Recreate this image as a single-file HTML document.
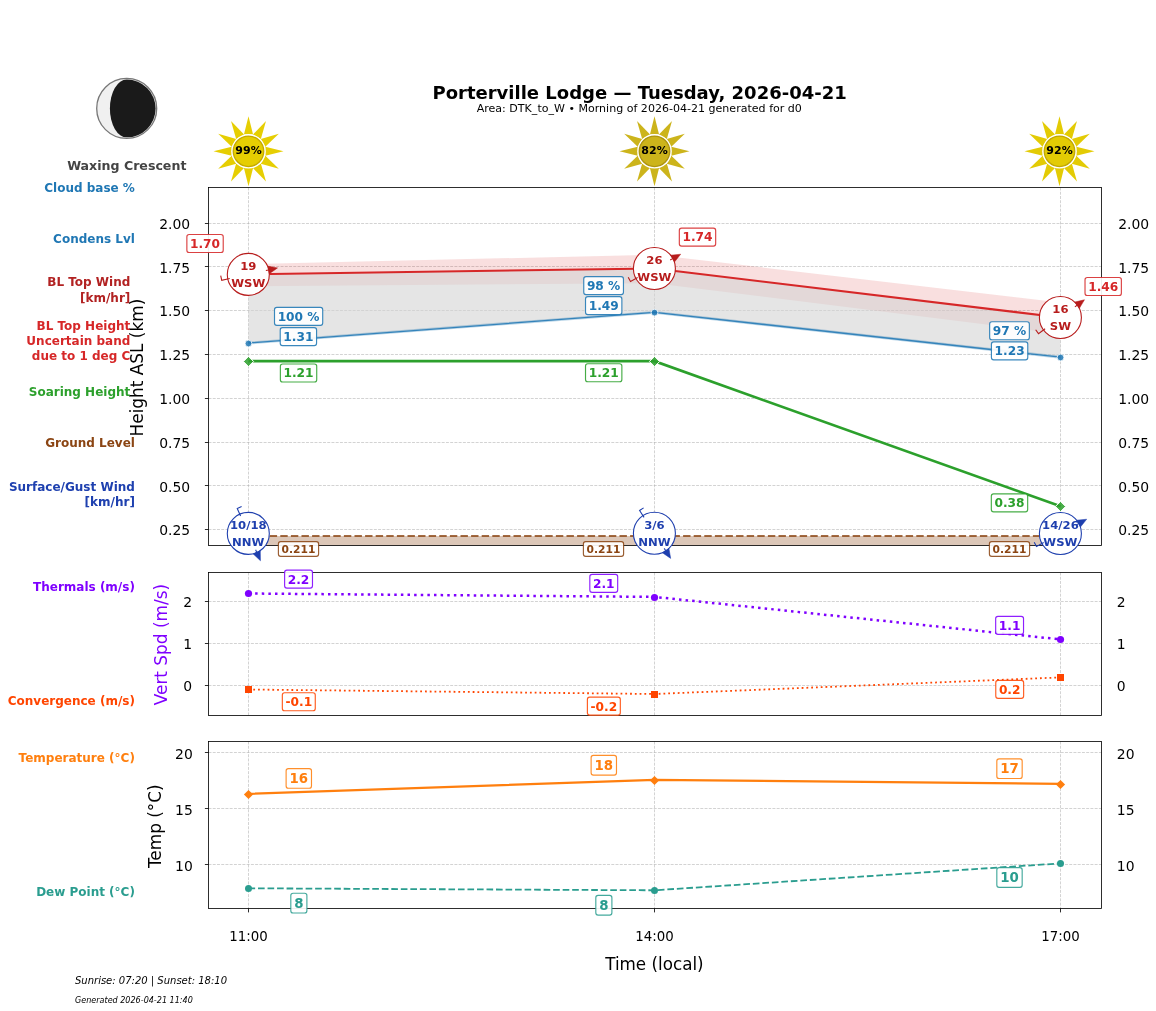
<!DOCTYPE html>
<html><head><meta charset="utf-8"><title>Porterville Lodge</title>
<style>html,body{margin:0;padding:0;background:#fff}svg{display:block}</style></head>
<body>
<svg width="1156" height="1011" viewBox="0 0 1156 1011" font-family='"DejaVu Sans","Liberation Sans",sans-serif'>
<style>.g{stroke:#b0b0b0;stroke-opacity:.7;stroke-width:.8;stroke-dasharray:2.96 1.28;fill:none}.tk{font-size:13.9px;fill:#000}.ll{font-size:12px;font-weight:bold}</style>
<rect width="1156" height="1011" fill="#fff"/>
<text x="639.6" y="98.6" text-anchor="middle" font-weight="bold" font-size="18.0" fill="#000">Porterville Lodge — Tuesday, 2026-04-21</text>
<text x="639.3" y="111.6" text-anchor="middle" font-size="11.05" fill="#000">Area: DTK_to_W • Morning of 2026-04-21 generated for d0</text>
<circle cx="126.7" cy="108.45" r="30.0" fill="#f0f0f0" stroke="#777" stroke-width="1.3"/>
<path d="M126.7,79.55000000000001A28.9,28.9 0 0 1 126.7,137.35A16.8,28.9 0 0 1 126.7,79.55000000000001Z" fill="#1a1a1a"/>
<text x="126.8" y="169.9" text-anchor="middle" font-weight="bold" font-size="12.6" fill="#444">Waxing Crescent</text>
<line x1="248.5" y1="187.5" x2="248.5" y2="545.5" class="g"/>
<line x1="654.5" y1="187.5" x2="654.5" y2="545.5" class="g"/>
<line x1="1060.5" y1="187.5" x2="1060.5" y2="545.5" class="g"/>
<line x1="208.5" y1="223.5" x2="1101.5" y2="223.5" class="g"/>
<line x1="208.5" y1="266.5" x2="1101.5" y2="266.5" class="g"/>
<line x1="208.5" y1="310.5" x2="1101.5" y2="310.5" class="g"/>
<line x1="208.5" y1="354.5" x2="1101.5" y2="354.5" class="g"/>
<line x1="208.5" y1="398.5" x2="1101.5" y2="398.5" class="g"/>
<line x1="208.5" y1="442.5" x2="1101.5" y2="442.5" class="g"/>
<line x1="208.5" y1="485.5" x2="1101.5" y2="485.5" class="g"/>
<line x1="208.5" y1="529.5" x2="1101.5" y2="529.5" class="g"/>
<polygon points="248.50,264.20 654.50,254.70 1060.50,302.60 1060.50,333.90 654.50,283.20 248.50,286.40" fill="#d62728" fill-opacity="0.15"/>
<polygon points="248.50,274.30 654.50,268.50 1060.50,317.50 1060.50,357.20 654.50,312.40 248.50,343.00" fill="#d3d3d3" fill-opacity="0.6"/>
<rect x="248.5" y="536.0" width="812.0" height="9.5" fill="#8b4513" fill-opacity="0.3"/>
<line x1="248.5" y1="536.0" x2="1060.5" y2="536.0" stroke="#8b4513" stroke-opacity="0.8" stroke-width="2.0" stroke-dasharray="7.4 3.2"/>
<polyline points="248.50,343.00 654.50,312.40 1060.50,357.20" fill="none" stroke="#1f77b4" stroke-opacity="0.3" stroke-width="2.9"/>
<polyline points="248.50,343.00 654.50,312.40 1060.50,357.20" fill="none" stroke="#1f77b4" stroke-opacity="0.85" stroke-width="1.3"/>
<circle cx="248.5" cy="343.5" r="3.4" fill="#1f77b4" fill-opacity="0.85" stroke="#fff" stroke-opacity="0.9" stroke-width="0.9"/>
<circle cx="654.5" cy="312.6" r="3.4" fill="#1f77b4" fill-opacity="0.85" stroke="#fff" stroke-opacity="0.9" stroke-width="0.9"/>
<circle cx="1060.5" cy="357.5" r="3.4" fill="#1f77b4" fill-opacity="0.85" stroke="#fff" stroke-opacity="0.9" stroke-width="0.9"/>
<polyline points="248.50,361.15 654.50,361.15 1060.50,506.30" fill="none" stroke="#2ca02c" stroke-width="2.67"/>
<path d="M248.5,356.4L253.6,361.5L248.5,366.6L243.4,361.5Z" fill="#2ca02c" fill-opacity="0.85" stroke="#fff" stroke-width="1.0"/>
<path d="M654.5,356.4L659.6,361.5L654.5,366.6L649.4,361.5Z" fill="#2ca02c" fill-opacity="0.85" stroke="#fff" stroke-width="1.0"/>
<path d="M1060.5,501.4L1065.6,506.5L1060.5,511.6L1055.4,506.5Z" fill="#2ca02c" fill-opacity="0.85" stroke="#fff" stroke-width="1.0"/>
<polyline points="248.50,274.30 654.50,268.50 1060.50,317.50" fill="none" stroke="#d62728" stroke-width="2.05"/>
<rect x="208.5" y="187.5" width="893.0" height="358.0" fill="none" stroke="#000" stroke-width="0.82"/>
<line x1="204.9" y1="223.5" x2="208.5" y2="223.5" stroke="#000" stroke-width="0.82"/>
<text x="190.2" y="228.80" text-anchor="end" class="tk">2.00</text>
<text x="1118.2" y="228.80" text-anchor="start" class="tk">2.00</text>
<line x1="204.9" y1="266.5" x2="208.5" y2="266.5" stroke="#000" stroke-width="0.82"/>
<text x="190.2" y="272.60" text-anchor="end" class="tk">1.75</text>
<text x="1118.2" y="272.60" text-anchor="start" class="tk">1.75</text>
<line x1="204.9" y1="310.5" x2="208.5" y2="310.5" stroke="#000" stroke-width="0.82"/>
<text x="190.2" y="316.40" text-anchor="end" class="tk">1.50</text>
<text x="1118.2" y="316.40" text-anchor="start" class="tk">1.50</text>
<line x1="204.9" y1="354.5" x2="208.5" y2="354.5" stroke="#000" stroke-width="0.82"/>
<text x="190.2" y="360.20" text-anchor="end" class="tk">1.25</text>
<text x="1118.2" y="360.20" text-anchor="start" class="tk">1.25</text>
<line x1="204.9" y1="398.5" x2="208.5" y2="398.5" stroke="#000" stroke-width="0.82"/>
<text x="190.2" y="404.00" text-anchor="end" class="tk">1.00</text>
<text x="1118.2" y="404.00" text-anchor="start" class="tk">1.00</text>
<line x1="204.9" y1="442.5" x2="208.5" y2="442.5" stroke="#000" stroke-width="0.82"/>
<text x="190.2" y="447.80" text-anchor="end" class="tk">0.75</text>
<text x="1118.2" y="447.80" text-anchor="start" class="tk">0.75</text>
<line x1="204.9" y1="485.5" x2="208.5" y2="485.5" stroke="#000" stroke-width="0.82"/>
<text x="190.2" y="491.60" text-anchor="end" class="tk">0.50</text>
<text x="1118.2" y="491.60" text-anchor="start" class="tk">0.50</text>
<line x1="204.9" y1="529.5" x2="208.5" y2="529.5" stroke="#000" stroke-width="0.82"/>
<text x="190.2" y="535.40" text-anchor="end" class="tk">0.25</text>
<text x="1118.2" y="535.40" text-anchor="start" class="tk">0.25</text>
<rect x="186.87" y="234.50" width="36.35" height="18.00" rx="2.3" fill="#fff" fill-opacity="0.92" stroke="#d62728" stroke-opacity="0.88" stroke-width="1.15"/>
<text x="205.05" y="247.85" text-anchor="middle" font-weight="bold" font-size="12.2" fill="#d62728">1.70</text>
<rect x="679.32" y="228.10" width="36.35" height="18.00" rx="2.3" fill="#fff" fill-opacity="0.92" stroke="#d62728" stroke-opacity="0.88" stroke-width="1.15"/>
<text x="697.50" y="241.45" text-anchor="middle" font-weight="bold" font-size="12.2" fill="#d62728">1.74</text>
<rect x="1085.02" y="277.50" width="36.35" height="18.00" rx="2.3" fill="#fff" fill-opacity="0.92" stroke="#d62728" stroke-opacity="0.88" stroke-width="1.15"/>
<text x="1103.20" y="290.85" text-anchor="middle" font-weight="bold" font-size="12.2" fill="#d62728">1.46</text>
<rect x="274.51" y="307.40" width="48.19" height="18.00" rx="2.3" fill="#fff" fill-opacity="0.92" stroke="#1f77b4" stroke-opacity="0.88" stroke-width="1.15"/>
<text x="298.60" y="320.75" text-anchor="middle" font-weight="bold" font-size="12.2" fill="#1f77b4">100 %</text>
<rect x="280.22" y="327.60" width="36.35" height="18.00" rx="2.3" fill="#fff" fill-opacity="0.92" stroke="#1f77b4" stroke-opacity="0.88" stroke-width="1.15"/>
<text x="298.40" y="340.95" text-anchor="middle" font-weight="bold" font-size="12.2" fill="#1f77b4">1.31</text>
<rect x="583.75" y="276.60" width="39.70" height="18.00" rx="2.3" fill="#fff" fill-opacity="0.92" stroke="#1f77b4" stroke-opacity="0.88" stroke-width="1.15"/>
<text x="603.60" y="289.95" text-anchor="middle" font-weight="bold" font-size="12.2" fill="#1f77b4">98 %</text>
<rect x="585.52" y="296.60" width="36.35" height="18.00" rx="2.3" fill="#fff" fill-opacity="0.92" stroke="#1f77b4" stroke-opacity="0.88" stroke-width="1.15"/>
<text x="603.70" y="309.95" text-anchor="middle" font-weight="bold" font-size="12.2" fill="#1f77b4">1.49</text>
<rect x="989.65" y="321.70" width="39.70" height="18.00" rx="2.3" fill="#fff" fill-opacity="0.92" stroke="#1f77b4" stroke-opacity="0.88" stroke-width="1.15"/>
<text x="1009.50" y="335.05" text-anchor="middle" font-weight="bold" font-size="12.2" fill="#1f77b4">97 %</text>
<rect x="991.42" y="341.90" width="36.35" height="18.00" rx="2.3" fill="#fff" fill-opacity="0.92" stroke="#1f77b4" stroke-opacity="0.88" stroke-width="1.15"/>
<text x="1009.60" y="355.25" text-anchor="middle" font-weight="bold" font-size="12.2" fill="#1f77b4">1.23</text>
<rect x="280.37" y="363.95" width="36.35" height="18.00" rx="2.3" fill="#fff" fill-opacity="0.92" stroke="#2ca02c" stroke-opacity="0.88" stroke-width="1.15"/>
<text x="298.55" y="377.30" text-anchor="middle" font-weight="bold" font-size="12.2" fill="#2ca02c">1.21</text>
<rect x="585.52" y="363.70" width="36.35" height="18.00" rx="2.3" fill="#fff" fill-opacity="0.92" stroke="#2ca02c" stroke-opacity="0.88" stroke-width="1.15"/>
<text x="603.70" y="377.05" text-anchor="middle" font-weight="bold" font-size="12.2" fill="#2ca02c">1.21</text>
<rect x="991.32" y="493.90" width="36.35" height="18.00" rx="2.3" fill="#fff" fill-opacity="0.92" stroke="#2ca02c" stroke-opacity="0.88" stroke-width="1.15"/>
<text x="1009.50" y="507.25" text-anchor="middle" font-weight="bold" font-size="12.2" fill="#2ca02c">0.38</text>
<rect x="278.40" y="541.65" width="40.20" height="14.70" rx="2.3" fill="#fff" fill-opacity="0.92" stroke="#8b4513" stroke-opacity="0.88" stroke-width="1.15"/>
<text x="298.50" y="552.85" text-anchor="middle" font-weight="bold" font-size="10.7" fill="#8b4513">0.211</text>
<rect x="583.40" y="541.65" width="40.20" height="14.70" rx="2.3" fill="#fff" fill-opacity="0.92" stroke="#8b4513" stroke-opacity="0.88" stroke-width="1.15"/>
<text x="603.50" y="552.85" text-anchor="middle" font-weight="bold" font-size="10.7" fill="#8b4513">0.211</text>
<rect x="989.40" y="541.65" width="40.20" height="14.70" rx="2.3" fill="#fff" fill-opacity="0.92" stroke="#8b4513" stroke-opacity="0.88" stroke-width="1.15"/>
<text x="1009.50" y="552.85" text-anchor="middle" font-weight="bold" font-size="10.7" fill="#8b4513">0.211</text>
<circle cx="248.3" cy="274.4" r="21.0" fill="#fff" stroke="#b71c1c" stroke-width="1.1"/>
<path d="M265.87,270.50L268.51,269.92" stroke="#b71c1c" stroke-width="1.1" fill="none"/>
<path d="M277.49,267.93L267.67,266.11L269.35,273.73Z" fill="#b71c1c" stroke="#b71c1c" stroke-width="0.5" stroke-linejoin="miter"/>
<path d="M229.75,278.51L221.74,280.29L220.71,275.60" stroke="#b71c1c" stroke-width="1.1" fill="none"/>
<text transform="translate(248.3,269.80) scale(1.05,1)" text-anchor="middle" font-weight="bold" font-size="11.1" fill="#b71c1c">19</text>
<text transform="translate(248.3,286.80) scale(1.05,1)" text-anchor="middle" font-weight="bold" font-size="11.1" fill="#b71c1c">WSW</text>
<circle cx="654.4" cy="268.5" r="21.0" fill="#fff" stroke="#b71c1c" stroke-width="1.1"/>
<path d="M670.22,259.91L672.59,258.62" stroke="#b71c1c" stroke-width="1.1" fill="none"/>
<path d="M680.68,254.23L670.73,255.20L674.45,262.05Z" fill="#b71c1c" stroke="#b71c1c" stroke-width="0.5" stroke-linejoin="miter"/>
<path d="M637.70,277.57L630.50,281.48L628.21,277.26" stroke="#b71c1c" stroke-width="1.1" fill="none"/>
<text transform="translate(654.4,263.90) scale(1.05,1)" text-anchor="middle" font-weight="bold" font-size="11.1" fill="#b71c1c">26</text>
<text transform="translate(654.4,280.90) scale(1.05,1)" text-anchor="middle" font-weight="bold" font-size="11.1" fill="#b71c1c">WSW</text>
<circle cx="1060.4" cy="317.5" r="21.0" fill="#fff" stroke="#b71c1c" stroke-width="1.1"/>
<path d="M1074.89,306.82L1077.06,305.22" stroke="#b71c1c" stroke-width="1.1" fill="none"/>
<path d="M1084.47,299.76L1074.75,302.08L1079.38,308.36Z" fill="#b71c1c" stroke="#b71c1c" stroke-width="0.5" stroke-linejoin="miter"/>
<path d="M1045.11,328.77L1038.51,333.64L1035.66,329.78" stroke="#b71c1c" stroke-width="1.1" fill="none"/>
<text transform="translate(1060.4,312.90) scale(1.05,1)" text-anchor="middle" font-weight="bold" font-size="11.1" fill="#b71c1c">16</text>
<text transform="translate(1060.4,329.90) scale(1.05,1)" text-anchor="middle" font-weight="bold" font-size="11.1" fill="#b71c1c">SW</text>
<circle cx="248.3" cy="533.4" r="21.0" fill="#fff" stroke="#1e3fae" stroke-width="1.1"/>
<path d="M255.62,549.84L256.72,552.31" stroke="#1e3fae" stroke-width="1.1" fill="none"/>
<path d="M260.46,560.72L260.28,550.72L253.16,553.90Z" fill="#1e3fae" stroke="#1e3fae" stroke-width="0.5" stroke-linejoin="miter"/>
<path d="M240.57,516.04L237.24,508.55L241.62,506.60" stroke="#1e3fae" stroke-width="1.1" fill="none"/>
<text transform="translate(248.3,528.80) scale(1.05,1)" text-anchor="middle" font-weight="bold" font-size="11.1" fill="#1e3fae">10/18</text>
<text transform="translate(248.3,545.80) scale(1.05,1)" text-anchor="middle" font-weight="bold" font-size="11.1" fill="#1e3fae">NNW</text>
<circle cx="654.4" cy="533.3" r="21.0" fill="#fff" stroke="#1e3fae" stroke-width="1.1"/>
<path d="M664.20,548.40L665.67,550.66" stroke="#1e3fae" stroke-width="1.1" fill="none"/>
<path d="M670.68,558.38L668.94,548.54L662.40,552.78Z" fill="#1e3fae" stroke="#1e3fae" stroke-width="0.5" stroke-linejoin="miter"/>
<path d="M644.05,517.37L639.59,510.49L643.61,507.87" stroke="#1e3fae" stroke-width="1.1" fill="none"/>
<text transform="translate(654.4,528.70) scale(1.05,1)" text-anchor="middle" font-weight="bold" font-size="11.1" fill="#1e3fae">3/6</text>
<text transform="translate(654.4,545.70) scale(1.05,1)" text-anchor="middle" font-weight="bold" font-size="11.1" fill="#1e3fae">NNW</text>
<circle cx="1060.4" cy="533.5" r="21.0" fill="#fff" stroke="#1e3fae" stroke-width="1.1"/>
<path d="M1076.22,524.91L1078.59,523.62" stroke="#1e3fae" stroke-width="1.1" fill="none"/>
<path d="M1086.68,519.23L1076.73,520.20L1080.45,527.05Z" fill="#1e3fae" stroke="#1e3fae" stroke-width="0.5" stroke-linejoin="miter"/>
<path d="M1043.70,542.57L1036.50,546.48L1034.21,542.26" stroke="#1e3fae" stroke-width="1.1" fill="none"/>
<text transform="translate(1060.4,528.90) scale(1.05,1)" text-anchor="middle" font-weight="bold" font-size="11.1" fill="#1e3fae">14/26</text>
<text transform="translate(1060.4,545.90) scale(1.05,1)" text-anchor="middle" font-weight="bold" font-size="11.1" fill="#1e3fae">WSW</text>
<path d="M243.94,134.51L248.50,116.30L253.06,134.51Z" fill="#e6ce02"/>
<path d="M252.94,134.48L266.00,120.99L260.85,139.04Z" fill="#e6ce02"/>
<path d="M260.76,138.95L278.81,133.80L265.32,146.86Z" fill="#e6ce02"/>
<path d="M265.29,146.74L283.50,151.30L265.29,155.86Z" fill="#e6ce02"/>
<path d="M265.32,155.74L278.81,168.80L260.76,163.65Z" fill="#e6ce02"/>
<path d="M260.85,163.56L266.00,181.61L252.94,168.12Z" fill="#e6ce02"/>
<path d="M253.06,168.09L248.50,186.30L243.94,168.09Z" fill="#e6ce02"/>
<path d="M244.06,168.12L231.00,181.61L236.15,163.56Z" fill="#e6ce02"/>
<path d="M236.24,163.65L218.19,168.80L231.68,155.74Z" fill="#e6ce02"/>
<path d="M231.71,155.86L213.50,151.30L231.71,146.74Z" fill="#e6ce02"/>
<path d="M231.68,146.86L218.19,133.80L236.24,138.95Z" fill="#e6ce02"/>
<path d="M236.15,139.04L231.00,120.99L244.06,134.48Z" fill="#e6ce02"/>
<circle cx="248.5" cy="151.3" r="17.2" fill="#fff"/>
<circle cx="248.5" cy="151.3" r="15.25" fill="#e6ce02" stroke="#c4aa00" stroke-width="1.35"/>
<text x="248.5" y="154.05" text-anchor="middle" font-weight="bold" font-size="11.0" fill="#000">99%</text>
<path d="M649.94,134.51L654.50,116.30L659.06,134.51Z" fill="#ccb41b"/>
<path d="M658.94,134.48L672.00,120.99L666.85,139.04Z" fill="#ccb41b"/>
<path d="M666.76,138.95L684.81,133.80L671.32,146.86Z" fill="#ccb41b"/>
<path d="M671.29,146.74L689.50,151.30L671.29,155.86Z" fill="#ccb41b"/>
<path d="M671.32,155.74L684.81,168.80L666.76,163.65Z" fill="#ccb41b"/>
<path d="M666.85,163.56L672.00,181.61L658.94,168.12Z" fill="#ccb41b"/>
<path d="M659.06,168.09L654.50,186.30L649.94,168.09Z" fill="#ccb41b"/>
<path d="M650.06,168.12L637.00,181.61L642.15,163.56Z" fill="#ccb41b"/>
<path d="M642.24,163.65L624.19,168.80L637.68,155.74Z" fill="#ccb41b"/>
<path d="M637.71,155.86L619.50,151.30L637.71,146.74Z" fill="#ccb41b"/>
<path d="M637.68,146.86L624.19,133.80L642.24,138.95Z" fill="#ccb41b"/>
<path d="M642.15,139.04L637.00,120.99L650.06,134.48Z" fill="#ccb41b"/>
<circle cx="654.5" cy="151.3" r="17.2" fill="#fff"/>
<circle cx="654.5" cy="151.3" r="15.25" fill="#ccb41b" stroke="#ad9410" stroke-width="1.35"/>
<text x="654.5" y="154.05" text-anchor="middle" font-weight="bold" font-size="11.0" fill="#000">82%</text>
<path d="M1054.94,134.51L1059.50,116.30L1064.06,134.51Z" fill="#e3cb04"/>
<path d="M1063.94,134.48L1077.00,120.99L1071.85,139.04Z" fill="#e3cb04"/>
<path d="M1071.76,138.95L1089.81,133.80L1076.32,146.86Z" fill="#e3cb04"/>
<path d="M1076.29,146.74L1094.50,151.30L1076.29,155.86Z" fill="#e3cb04"/>
<path d="M1076.32,155.74L1089.81,168.80L1071.76,163.65Z" fill="#e3cb04"/>
<path d="M1071.85,163.56L1077.00,181.61L1063.94,168.12Z" fill="#e3cb04"/>
<path d="M1064.06,168.09L1059.50,186.30L1054.94,168.09Z" fill="#e3cb04"/>
<path d="M1055.06,168.12L1042.00,181.61L1047.15,163.56Z" fill="#e3cb04"/>
<path d="M1047.24,163.65L1029.19,168.80L1042.68,155.74Z" fill="#e3cb04"/>
<path d="M1042.71,155.86L1024.50,151.30L1042.71,146.74Z" fill="#e3cb04"/>
<path d="M1042.68,146.86L1029.19,133.80L1047.24,138.95Z" fill="#e3cb04"/>
<path d="M1047.15,139.04L1042.00,120.99L1055.06,134.48Z" fill="#e3cb04"/>
<circle cx="1059.5" cy="151.3" r="17.2" fill="#fff"/>
<circle cx="1059.5" cy="151.3" r="15.25" fill="#e3cb04" stroke="#c0a803" stroke-width="1.35"/>
<text x="1059.5" y="154.05" text-anchor="middle" font-weight="bold" font-size="11.0" fill="#000">92%</text>
<text transform="translate(143.2,367.6) rotate(-90)" text-anchor="middle" font-size="16.9" fill="#000">Height ASL (km)</text>
<line x1="248.5" y1="572.5" x2="248.5" y2="715.5" class="g"/>
<line x1="654.5" y1="572.5" x2="654.5" y2="715.5" class="g"/>
<line x1="1060.5" y1="572.5" x2="1060.5" y2="715.5" class="g"/>
<line x1="208.5" y1="601.5" x2="1101.5" y2="601.5" class="g"/>
<line x1="208.5" y1="643.5" x2="1101.5" y2="643.5" class="g"/>
<line x1="208.5" y1="685.5" x2="1101.5" y2="685.5" class="g"/>
<polyline points="248.50,593.50 654.50,596.90 1060.50,639.40" fill="none" stroke="#7f00ff" stroke-width="2.5" stroke-dasharray="2.5 4.125"/>
<circle cx="248.5" cy="593.5" r="3.6" fill="#7f00ff"/>
<circle cx="654.5" cy="597.5" r="3.6" fill="#7f00ff"/>
<circle cx="1060.5" cy="639.5" r="3.6" fill="#7f00ff"/>
<polyline points="248.50,689.50 654.50,694.00 1060.50,677.40" fill="none" stroke="#ff4500" stroke-width="1.8" stroke-dasharray="1.8 2.97"/>
<rect x="245.0" y="686.0" width="7" height="7" fill="#ff4500"/>
<rect x="651.0" y="691.0" width="7" height="7" fill="#ff4500"/>
<rect x="1057.0" y="674.0" width="7" height="7" fill="#ff4500"/>
<rect x="208.5" y="572.5" width="893.0" height="143.0" fill="none" stroke="#000" stroke-width="0.82"/>
<line x1="204.9" y1="601.5" x2="208.5" y2="601.5" stroke="#000" stroke-width="0.82"/>
<text x="192.1" y="607.30" text-anchor="end" class="tk">2</text>
<text x="1116.8" y="607.30" text-anchor="start" class="tk">2</text>
<line x1="204.9" y1="643.5" x2="208.5" y2="643.5" stroke="#000" stroke-width="0.82"/>
<text x="192.1" y="649.30" text-anchor="end" class="tk">1</text>
<text x="1116.8" y="649.30" text-anchor="start" class="tk">1</text>
<line x1="204.9" y1="685.5" x2="208.5" y2="685.5" stroke="#000" stroke-width="0.82"/>
<text x="192.1" y="691.30" text-anchor="end" class="tk">0</text>
<text x="1116.8" y="691.30" text-anchor="start" class="tk">0</text>
<rect x="284.62" y="570.15" width="27.86" height="18.00" rx="2.3" fill="#fff" fill-opacity="0.92" stroke="#7f00ff" stroke-opacity="0.88" stroke-width="1.15"/>
<text x="298.55" y="583.50" text-anchor="middle" font-weight="bold" font-size="12.2" fill="#7f00ff">2.2</text>
<rect x="589.82" y="574.40" width="27.86" height="18.00" rx="2.3" fill="#fff" fill-opacity="0.92" stroke="#7f00ff" stroke-opacity="0.88" stroke-width="1.15"/>
<text x="603.75" y="587.75" text-anchor="middle" font-weight="bold" font-size="12.2" fill="#7f00ff">2.1</text>
<rect x="995.67" y="616.30" width="27.86" height="18.00" rx="2.3" fill="#fff" fill-opacity="0.92" stroke="#7f00ff" stroke-opacity="0.88" stroke-width="1.15"/>
<text x="1009.60" y="629.65" text-anchor="middle" font-weight="bold" font-size="12.2" fill="#7f00ff">1.1</text>
<rect x="282.34" y="692.75" width="32.93" height="18.00" rx="2.3" fill="#fff" fill-opacity="0.92" stroke="#ff4500" stroke-opacity="0.88" stroke-width="1.15"/>
<text x="298.80" y="706.10" text-anchor="middle" font-weight="bold" font-size="12.2" fill="#ff4500">-0.1</text>
<rect x="587.39" y="697.15" width="32.93" height="18.00" rx="2.3" fill="#fff" fill-opacity="0.92" stroke="#ff4500" stroke-opacity="0.88" stroke-width="1.15"/>
<text x="603.85" y="710.50" text-anchor="middle" font-weight="bold" font-size="12.2" fill="#ff4500">-0.2</text>
<rect x="995.77" y="680.40" width="27.86" height="18.00" rx="2.3" fill="#fff" fill-opacity="0.92" stroke="#ff4500" stroke-opacity="0.88" stroke-width="1.15"/>
<text x="1009.70" y="693.75" text-anchor="middle" font-weight="bold" font-size="12.2" fill="#ff4500">0.2</text>
<text transform="translate(167.4,644.6) rotate(-90)" text-anchor="middle" font-size="16.9" fill="#7f00ff">Vert Spd (m/s)</text>
<line x1="248.5" y1="741.5" x2="248.5" y2="908.5" class="g"/>
<line x1="654.5" y1="741.5" x2="654.5" y2="908.5" class="g"/>
<line x1="1060.5" y1="741.5" x2="1060.5" y2="908.5" class="g"/>
<line x1="208.5" y1="752.5" x2="1101.5" y2="752.5" class="g"/>
<line x1="208.5" y1="808.5" x2="1101.5" y2="808.5" class="g"/>
<line x1="208.5" y1="864.5" x2="1101.5" y2="864.5" class="g"/>
<polyline points="248.50,793.80 654.50,779.90 1060.50,783.80" fill="none" stroke="#ff7f0e" stroke-width="2.3"/>
<path d="M248.5,789.9L253.1,794.5L248.5,799.1L243.9,794.5Z" fill="#ff7f0e"/>
<path d="M654.5,775.9L659.1,780.5L654.5,785.1L649.9,780.5Z" fill="#ff7f0e"/>
<path d="M1060.5,779.9L1065.1,784.5L1060.5,789.1L1055.9,784.5Z" fill="#ff7f0e"/>
<polyline points="248.50,888.30 654.50,890.30 1060.50,863.40" fill="none" stroke="#2a9d8f" stroke-width="1.8" stroke-dasharray="6.65 2.87"/>
<circle cx="248.5" cy="888.5" r="3.5" fill="#2a9d8f"/>
<circle cx="654.5" cy="890.5" r="3.5" fill="#2a9d8f"/>
<circle cx="1060.5" cy="863.5" r="3.5" fill="#2a9d8f"/>
<rect x="208.5" y="741.5" width="893.0" height="167.0" fill="none" stroke="#000" stroke-width="0.82"/>
<line x1="204.9" y1="752.5" x2="208.5" y2="752.5" stroke="#000" stroke-width="0.82"/>
<text x="192.8" y="758.50" text-anchor="end" class="tk">20</text>
<text x="1116.8" y="758.50" text-anchor="start" class="tk">20</text>
<line x1="204.9" y1="808.5" x2="208.5" y2="808.5" stroke="#000" stroke-width="0.82"/>
<text x="192.8" y="814.50" text-anchor="end" class="tk">15</text>
<text x="1116.8" y="814.50" text-anchor="start" class="tk">15</text>
<line x1="204.9" y1="864.5" x2="208.5" y2="864.5" stroke="#000" stroke-width="0.82"/>
<text x="192.8" y="870.50" text-anchor="end" class="tk">10</text>
<text x="1116.8" y="870.50" text-anchor="start" class="tk">10</text>
<line x1="248.5" y1="908.5" x2="248.5" y2="912.4" stroke="#000" stroke-width="0.82"/>
<text x="248.5" y="940.6" text-anchor="middle" class="tk" style="font-size:13.35px">11:00</text>
<line x1="654.5" y1="908.5" x2="654.5" y2="912.4" stroke="#000" stroke-width="0.82"/>
<text x="654.5" y="940.6" text-anchor="middle" class="tk" style="font-size:13.35px">14:00</text>
<line x1="1060.5" y1="908.5" x2="1060.5" y2="912.4" stroke="#000" stroke-width="0.82"/>
<text x="1060.5" y="940.6" text-anchor="middle" class="tk" style="font-size:13.35px">17:00</text>
<rect x="286.12" y="768.55" width="25.36" height="19.70" rx="2.3" fill="#fff" fill-opacity="0.92" stroke="#ff7f0e" stroke-opacity="0.88" stroke-width="1.15"/>
<text x="298.80" y="783.00" text-anchor="middle" font-weight="bold" font-size="13.33" fill="#ff7f0e">16</text>
<rect x="591.12" y="755.35" width="25.36" height="19.70" rx="2.3" fill="#fff" fill-opacity="0.92" stroke="#ff7f0e" stroke-opacity="0.88" stroke-width="1.15"/>
<text x="603.80" y="769.80" text-anchor="middle" font-weight="bold" font-size="13.33" fill="#ff7f0e">18</text>
<rect x="996.82" y="758.80" width="25.36" height="19.70" rx="2.3" fill="#fff" fill-opacity="0.92" stroke="#ff7f0e" stroke-opacity="0.88" stroke-width="1.15"/>
<text x="1009.50" y="773.25" text-anchor="middle" font-weight="bold" font-size="13.33" fill="#ff7f0e">17</text>
<rect x="290.81" y="893.25" width="16.08" height="19.70" rx="2.3" fill="#fff" fill-opacity="0.92" stroke="#2a9d8f" stroke-opacity="0.88" stroke-width="1.15"/>
<text x="298.85" y="907.70" text-anchor="middle" font-weight="bold" font-size="13.33" fill="#2a9d8f">8</text>
<rect x="595.81" y="895.40" width="16.08" height="19.70" rx="2.3" fill="#fff" fill-opacity="0.92" stroke="#2a9d8f" stroke-opacity="0.88" stroke-width="1.15"/>
<text x="603.85" y="909.85" text-anchor="middle" font-weight="bold" font-size="13.33" fill="#2a9d8f">8</text>
<rect x="996.82" y="867.65" width="25.36" height="19.70" rx="2.3" fill="#fff" fill-opacity="0.92" stroke="#2a9d8f" stroke-opacity="0.88" stroke-width="1.15"/>
<text x="1009.50" y="882.10" text-anchor="middle" font-weight="bold" font-size="13.33" fill="#2a9d8f">10</text>
<text transform="translate(160.7,826.2) rotate(-90)" text-anchor="middle" font-size="16.9" fill="#000">Temp (°C)</text>
<text x="654.4" y="970.2" text-anchor="middle" font-size="16.75" fill="#000">Time (local)</text>
<text x="134.9" y="191.9" text-anchor="end" class="ll" fill="#1f77b4">Cloud base %</text>
<text x="134.9" y="243.0" text-anchor="end" class="ll" fill="#1f77b4">Condens Lvl</text>
<text x="130.3" y="286.1" text-anchor="end" class="ll" fill="#b22222">BL Top Wind</text>
<text x="130.3" y="302.1" text-anchor="end" class="ll" fill="#b22222">[km/hr]</text>
<text x="130.3" y="329.7" text-anchor="end" class="ll" fill="#d62728">BL Top Height</text>
<text x="130.3" y="344.7" text-anchor="end" class="ll" fill="#d62728">Uncertain band</text>
<text x="130.3" y="359.8" text-anchor="end" class="ll" fill="#d62728">due to 1 deg C</text>
<text x="130.3" y="395.6" text-anchor="end" class="ll" fill="#2ca02c">Soaring Height</text>
<text x="134.9" y="446.7" text-anchor="end" class="ll" fill="#8b4513">Ground Level</text>
<text x="134.9" y="490.7" text-anchor="end" class="ll" fill="#1e40af">Surface/Gust Wind</text>
<text x="134.9" y="505.7" text-anchor="end" class="ll" fill="#1e40af">[km/hr]</text>
<text x="134.9" y="590.8" text-anchor="end" class="ll" fill="#7f00ff">Thermals (m/s)</text>
<text x="134.9" y="704.8" text-anchor="end" class="ll" fill="#ff4500">Convergence (m/s)</text>
<text x="134.9" y="761.8" text-anchor="end" class="ll" fill="#ff7f0e">Temperature (°C)</text>
<text x="134.9" y="895.8" text-anchor="end" class="ll" fill="#2a9d8f">Dew Point (°C)</text>
<text x="75" y="983.8" font-style="italic" font-size="10" fill="#000">Sunrise: 07:20 | Sunset: 18:10</text>
<text x="75" y="1003" font-style="italic" font-size="8.05" fill="#000">Generated 2026-04-21 11:40</text>
</svg>
</body></html>
